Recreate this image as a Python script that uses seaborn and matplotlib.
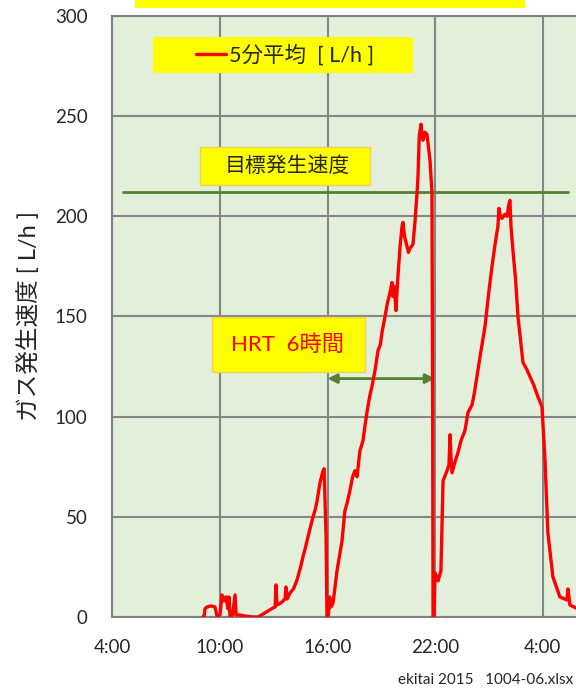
import seaborn as sns
import pandas as pd
import matplotlib.pyplot as plt
from matplotlib.patches import Rectangle

# clock hours from 0:00 of day 1 (24+ = next day) and 5-min average gas rate [L/h]
clock = [9.05, 9.11, 9.16, 9.27, 9.50, 9.72, 9.83, 10.00, 10.11, 10.22, 10.33, 10.45,
         10.50, 10.56, 10.70, 10.84, 10.90, 11.10, 11.39, 11.80, 12.12, 12.50, 12.96,
         13.08, 13.12, 13.18, 13.40, 13.63, 13.68, 13.75, 13.91, 14.10, 14.30, 14.50,
         14.63, 14.75, 14.91, 15.05, 15.19, 15.30, 15.42, 15.58, 15.75, 15.81, 15.92,
         15.97, 16.05, 16.12, 16.20, 16.31, 16.53, 16.70, 16.81, 16.97, 17.10, 17.25,
         17.40, 17.53, 17.65, 17.81, 17.98, 18.10, 18.20, 18.35, 18.48, 18.65, 18.82,
         18.95, 19.04, 19.21, 19.35, 19.49, 19.60, 19.65, 19.73, 19.82, 19.93, 20.05,
         20.16, 20.21, 20.30, 20.44, 20.52, 20.60, 20.77, 20.88, 21.00, 21.05, 21.12,
         21.22, 21.28, 21.33, 21.44, 21.55, 21.72, 21.83, 21.87, 21.89, 21.95, 22.00,
         22.10, 22.17, 22.33, 22.45, 22.67, 22.78, 22.84, 22.90, 22.95, 23.10, 23.28,
         23.45, 23.67, 23.84, 24.07, 24.20, 24.34, 24.55, 24.79, 25.00, 25.18, 25.35,
         25.51, 25.57, 25.65, 25.74, 25.90, 26.02, 26.10, 26.18, 26.24, 26.35, 26.50,
         26.63, 26.91, 27.10, 27.30, 27.50, 27.74, 27.97, 28.14, 28.30, 28.58, 28.97,
         29.36, 29.42, 29.53, 29.87, 30.40]
rate = [0, 0, 4, 5, 5.5, 5, 0.5, 1, 11, 8, 10, 4,
        10, 0, 1, 11, 1, 1, 0.5, 0, 0, 2, 4.5,
        5, 16, 6, 7, 9, 15, 9, 12, 14, 18.5, 25,
        30, 34, 40, 45, 50, 53, 58, 67, 73, 74, 40,
        0, 1, 10, 5, 7, 23, 32, 38, 53, 57, 63,
        70, 73, 70, 83, 88, 96, 102, 110, 115, 123, 133,
        136, 142, 150, 157, 162, 167, 160, 165, 153, 170, 185,
        195, 197, 190, 185, 182, 184, 186, 197, 212, 220, 240,
        246, 240, 238, 242, 241, 228, 212, 100, 0, 0, 22,
        20, 18, 23, 68, 73, 76, 91, 78, 72, 77, 82,
        88, 93, 102, 106, 112, 120, 132, 145, 162, 175, 186,
        195, 204, 200, 199, 201, 200, 205, 208, 195, 183, 168,
        150, 127, 124, 120, 116, 110, 105, 78, 42, 20, 10,
        8.5, 14, 6, 4.5, 3]

target_rate = 212
target_from, target_to = 4.6, 29.4
hrt_from, hrt_to, hrt_level = 16, 22, 119

tick_hours = [4, 10, 16, 22, 28]
tick_labels = ["4:00", "10:00", "16:00", "22:00", "4:00"]

df = pd.DataFrame({"clock": clock, "rate": rate})

sns.set_style("whitegrid")
plt.rcParams['font.family'] = ['Lato', 'Noto Sans CJK JP', 'DejaVu Sans']

fig = plt.figure(figsize=(5.76, 6.93), dpi=100)
ax = fig.add_axes([0.1953, 0.1097, 0.9332, 0.8672])
ax.set_facecolor('#e2efda')

sns.lineplot(data=df, x="clock", y="rate", color='red', lw=2.4, ax=ax,
             label="5分平均  [ L/h ]", zorder=3)

ax.plot([target_from, target_to], [target_rate, target_rate], color='#548235', lw=2, zorder=2)
ax.annotate("", xy=(hrt_from, hrt_level), xytext=(hrt_to, hrt_level),
            arrowprops=dict(arrowstyle='<|-|>', color='#548235', lw=2,
                            mutation_scale=14, shrinkA=0, shrinkB=0), zorder=2)

ax.set_xlim(4, 34)
ax.set_ylim(0, 300)
ax.set_xticks(tick_hours)
ax.set_xticklabels(tick_labels)
ax.set_yticks(range(0, 301, 50))
ax.tick_params(axis='both', length=0, labelsize=13.5, colors='#262626')
ax.tick_params(axis='x', pad=16)
ax.tick_params(axis='y', pad=18)
ax.grid(True, color='#868686', lw=1.5)
for s in ax.spines.values():
    s.set_visible(True)
    s.set_color('#808080')
    s.set_linewidth(1.5)

ax.set_xlabel("")
ax.set_ylabel("ガス発生速度 [ L/h ]", fontsize=17, color='#262626')
ax.yaxis.set_label_coords(-0.135, 0.5)

# legend box
ax.add_patch(Rectangle((0.0753, 0.905), 0.4837, 0.06, transform=ax.transAxes,
                       facecolor='#ffff00', edgecolor='none', zorder=4))
leg = ax.legend(loc='center', bbox_to_anchor=(0.3209, 0.935), frameon=False,
                fontsize=15.5, handlelength=1.4, handletextpad=0.15)
leg.set_zorder(5)
for t in leg.get_texts():
    t.set_color('#262626')

ax.add_patch(Rectangle((0.1628, 0.7188), 0.3163, 0.0632, transform=ax.transAxes,
                       facecolor='#ffff00', edgecolor='#f2d050', lw=1, zorder=4))
ax.text(0.3256, 0.7504, "目標発生速度", transform=ax.transAxes, ha='center', va='center',
        fontsize=15, color='#262626', zorder=5)

ax.add_patch(Rectangle((0.1851, 0.4077), 0.2847, 0.0915, transform=ax.transAxes,
                       facecolor='#ffff00', edgecolor='#f2d050', lw=1, zorder=4))
ax.text(0.3265, 0.4526, "HRT  6時間", transform=ax.transAxes, ha='center', va='center',
        fontsize=16, color='#ff0000', zorder=5)

# title band cut at top
fig.patches.append(Rectangle((135 / 576, 1 - 8 / 693), 390 / 576, 0.02,
                             transform=fig.transFigure, facecolor='#ffff00',
                             edgecolor='none'))

fig.text(0.995, 0.008, "ekitai 2015   1004-06.xlsx", ha='right', va='bottom',
         fontsize=11, color='#262626')

fig.savefig("out.png", dpi=100)
